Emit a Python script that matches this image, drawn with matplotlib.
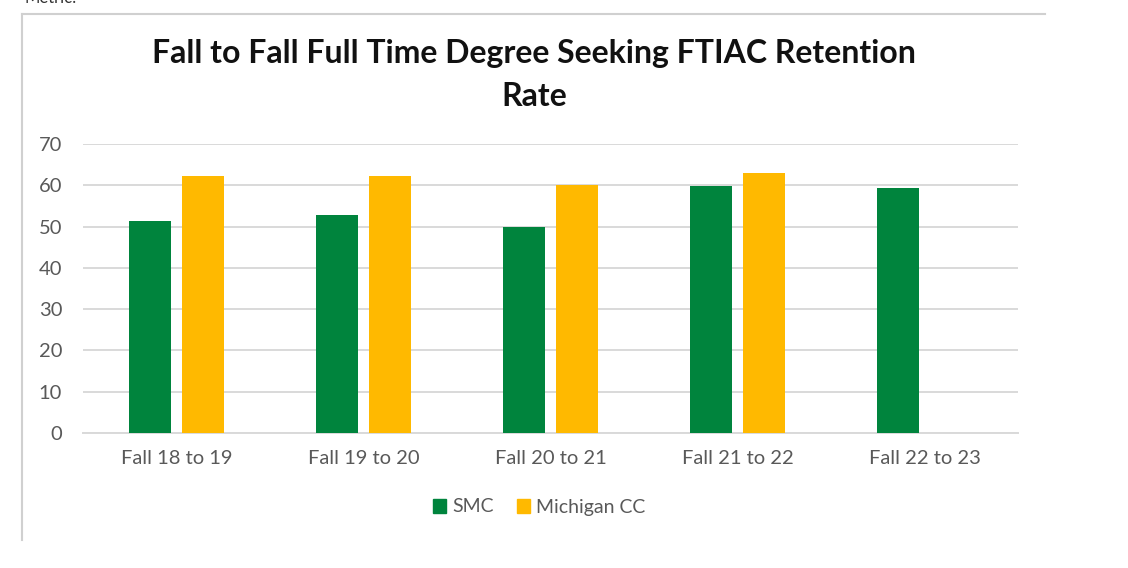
import numpy as np
import matplotlib
matplotlib.use('Agg')
import matplotlib.pyplot as plt
from matplotlib.lines import Line2D
from matplotlib.patches import Patch

plt.rcParams['font.family'] = ['Lato', 'DejaVu Sans']

categories = ['Fall 18 to 19', 'Fall 19 to 20', 'Fall 20 to 21', 'Fall 21 to 22', 'Fall 22 to 23']
smc = [51.4, 52.8, 49.9, 59.8, 59.4]
michigan_cc = [62.2, 62.2, 60.1, 63.0, np.nan]
y_ticks = [0, 10, 20, 30, 40, 50, 60, 70]

green = '#00843D'
gold = '#FFB900'
grey_text = '#595959'
grid_col = '#D9D9D9'

fig = plt.figure(figsize=(11.28, 5.68), dpi=100, facecolor='w')
ax = fig.add_axes([83 / 1128, 1 - 433 / 568, (1018 - 83) / 1128, (433 - 144) / 568])

x = np.arange(len(categories))
bar_w = 0.22
offset = 0.142
ax.bar(x - offset, smc, bar_w, color=green, zorder=3)
ax.bar(x + offset, michigan_cc, bar_w, color=gold, zorder=3)

ax.set_xlim(-0.5, len(categories) - 0.5)
ax.set_ylim(0, 70)
ax.set_yticks(y_ticks)
ax.set_xticks(x)
ax.set_xticklabels(categories)
ax.yaxis.grid(True, color=grid_col, linewidth=1.4, zorder=0)
ax.set_axisbelow(True)
for s in ['top', 'right', 'left']:
    ax.spines[s].set_visible(False)
ax.spines['bottom'].set_color(grid_col)
ax.spines['bottom'].set_linewidth(1.4)
ax.tick_params(axis='both', length=0, colors=grey_text, labelsize=14.5)
ax.tick_params(axis='y', pad=15)
ax.tick_params(axis='x', pad=12)

# title
fig.text(534 / 1128, 1 - 53 / 568, 'Fall to Fall Full Time Degree Seeking FTIAC Retention',
         ha='center', va='center', fontsize=23, fontweight='bold', color='#111111')
fig.text(534 / 1128, 1 - 96 / 568, 'Rate',
         ha='center', va='center', fontsize=23, fontweight='bold', color='#111111')

# legend
handles = [Patch(color=green, label='SMC'), Patch(color=gold, label='Michigan CC')]
fig.legend(handles=handles, loc='center', bbox_to_anchor=(539 / 1128, 1 - 507 / 568),
           ncol=2, frameon=False, fontsize=14, labelcolor=grey_text,
           handlelength=0.7, handleheight=0.7, handletextpad=0.3, columnspacing=1.2)

# chart frame lines
fig.add_artist(Line2D([22 / 1128, 1045 / 1128], [1 - 14 / 568, 1 - 14 / 568],
                      color='#D0D0D0', linewidth=1.5, transform=fig.transFigure))
fig.add_artist(Line2D([22 / 1128, 22 / 1128], [1 - 14 / 568, 1 - 540 / 568],
                      color='#D0D0D0', linewidth=1.5, transform=fig.transFigure))
fig.text(25 / 1128, 1 - 6 / 568, 'Metric:', ha='left', va='bottom', fontsize=12, color='#333333')

fig.savefig('out.png', dpi=100)
